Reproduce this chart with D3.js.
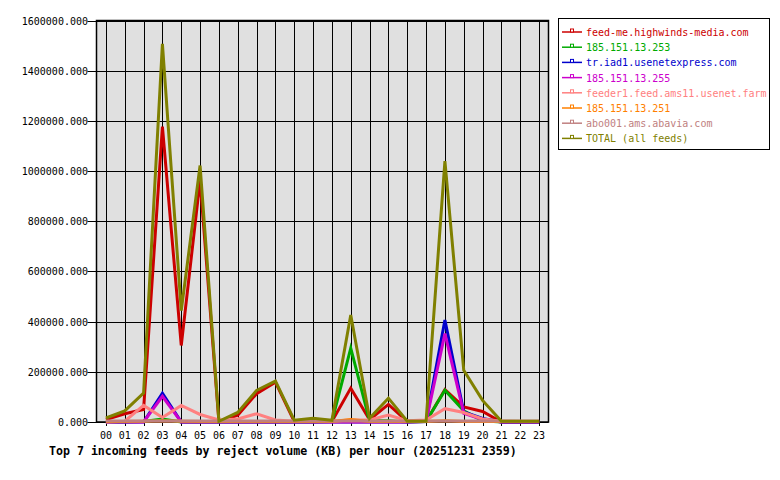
<!DOCTYPE html>
<html>
<head>
<meta charset="utf-8">
<script src="https://cdn.jsdelivr.net/npm/d3@7"></script>
<style>
body { margin: 0; background: #fff; }
text { font-family: "DejaVu Sans Mono", monospace; }
</style>
</head>
<body>
<script>
//chart data
var hours = ["00","01","02","03","04","05","06","07","08","09","10","11",
             "12","13","14","15","16","17","18","19","20","21","22","23"];

var feedNames = ["feed-me.highwinds-media.com", "185.151.13.253", "tr.iad1.usenetexpress.com",
                 "185.151.13.255", "feeder1.feed.ams11.usenet.farm", "185.151.13.251",
                 "abo001.ams.abavia.com", "TOTAL (all feeds)"];

var feedColors = ["#cc0000", "#00aa00", "#0000cc", "#cc00cc", "#ff8080", "#ff8000", "#c08080", "#808000"];

var highwinds = [10000, 33000, 50000, 1177000, 305000, 963000, 2000, 27000, 113000, 159000, 2000, 5000,
                 2000, 135000, 9000, 70000, 2000, 2000, 129000, 60000, 42000, 0, 0, 0];
var ip253 = [0, 0, 2000, 12000, 0, 0, 0, 0, 0, 0, 0, 0,
             2000, 294000, 5000, 5000, 0, 2000, 127000, 45000, 5000, 0, 0, 0];
var usenetexpress = [0, 0, 0, 115000, 0, 0, 0, 0, 0, 0, 0, 0,
                     0, 0, 0, 0, 0, 2000, 406000, 40000, 14000, 0, 0, 0];
var ip255 = [0, 0, 0, 102000, 0, 0, 0, 0, 0, 0, 0, 0,
             0, 0, 0, 0, 0, 2000, 352000, 35000, 10000, 0, 0, 0];
var usenetFarm = [0, 3000, 66000, 18000, 66000, 30000, 8000, 12000, 33000, 8000, 3000, 3000,
                  3000, 8000, 8000, 28000, 5000, 8000, 53000, 38000, 12000, 3000, 2000, 2000];
var ip251 = [2000, 2000, 3000, 5000, 3000, 2000, 2000, 2000, 2000, 2000, 2000, 2000,
             2000, 10000, 2000, 2000, 2000, 2000, 5000, 2000, 2000, 2000, 2000, 2000];
var abavia = [4000, 4000, 4000, 4000, 4000, 4000, 4000, 4000, 4000, 4000, 4000, 4000,
              4000, 4000, 4000, 4000, 4000, 4000, 4000, 4000, 4000, 4000, 4000, 4000];
var total = [16000, 44000, 115000, 1507000, 444000, 1022000, 3000, 38000, 126000, 163000, 7000, 15000,
             7000, 426000, 15000, 95000, 3000, 3000, 1040000, 206000, 86000, 3000, 3000, 3000];

var yTicks = [0, 200000, 400000, 600000, 800000, 1000000, 1200000, 1400000, 1600000];

var titleText = "Top 7 incoming feeds by reject volume (KB) per hour (20251231 2359)";

var allSeries = [highwinds, ip253, usenetexpress, ip255, usenetFarm, ip251, abavia, total];

window.onload = drawChart();

function drawChart(){

    var width = 780,
        height = 480;

    var svg = d3.select("body")
        .append("svg")
        .attr("width", width)
        .attr("height", height);

    var plotLeft = 96.5, plotRight = 548.5, plotTop = 20.5, plotBottom = 422;

    var x = d3.scalePoint()
        .domain(hours)
        .range([plotLeft, plotRight])
        .padding(0.5);

    var y = d3.scaleLinear()
        .domain([0, 1600000])
        .range([plotBottom, plotTop]);

    //plot background
    svg.append("rect")
        .attr("x", plotLeft)
        .attr("y", plotTop)
        .attr("width", plotRight - plotLeft)
        .attr("height", plotBottom - plotTop)
        .attr("fill", "#e0e0e0");

    //vertical grid lines + ticks
    svg.selectAll(".vgrid")
        .data(hours)
        .enter()
        .append("line")
        .attr("class", "vgrid")
        .attr("x1", function(d){ return Math.round(x(d)) + 0.5; })
        .attr("x2", function(d){ return Math.round(x(d)) + 0.5; })
        .attr("y1", plotTop)
        .attr("y2", plotBottom + 4)
        .attr("stroke", "#000")
        .attr("stroke-width", 1);

    //horizontal grid lines + ticks
    svg.selectAll(".hgrid")
        .data(yTicks)
        .enter()
        .append("line")
        .attr("class", "hgrid")
        .attr("x1", plotLeft - 9)
        .attr("x2", plotRight)
        .attr("y1", function(d){ return Math.round(y(d)) + 0.5; })
        .attr("y2", function(d){ return Math.round(y(d)) + 0.5; })
        .attr("stroke", "#000")
        .attr("stroke-width", 1);

    //frame
    svg.append("rect")
        .attr("x", plotLeft)
        .attr("y", plotTop)
        .attr("width", plotRight - plotLeft)
        .attr("height", plotBottom - plotTop)
        .attr("fill", "none")
        .attr("stroke", "#000")
        .attr("stroke-width", 1.5);

    //axis labels
    svg.selectAll(".ylab")
        .data(yTicks)
        .enter()
        .append("text")
        .attr("class", "ylab")
        .attr("x", 88)
        .attr("y", function(d){ return y(d) + 4; })
        .attr("text-anchor", "end")
        .attr("font-size", "10px")
        .text(d3.format(".3f"));

    svg.selectAll(".xlab")
        .data(hours)
        .enter()
        .append("text")
        .attr("class", "xlab")
        .attr("x", function(d){ return x(d); })
        .attr("y", 439)
        .attr("text-anchor", "middle")
        .attr("font-size", "10px")
        .text(function(d){ return d; });

    //series lines
    var line = d3.line()
        .x(function(d, i){ return x(hours[i]); })
        .y(function(d){ return y(d); });

    svg.selectAll(".feed")
        .data(allSeries)
        .enter()
        .append("path")
        .attr("class", "feed")
        .attr("d", line)
        .attr("fill", "none")
        .attr("stroke", function(d, i){ return feedColors[i]; })
        .attr("stroke-width", 3)
        .attr("stroke-linejoin", "miter");

    //title
    svg.append("text")
        .attr("x", 49)
        .attr("y", 455)
        .attr("font-size", "11.6px")
        .attr("font-weight", "bold")
        .text(titleText);

    //legend
    var legend = svg.append("g");

    legend.append("rect")
        .attr("x", 558.5)
        .attr("y", 18.5)
        .attr("width", 211)
        .attr("height", 131)
        .attr("fill", "#fff")
        .attr("stroke", "#000")
        .attr("stroke-width", 1);

    var rows = legend.selectAll(".row")
        .data(feedNames)
        .enter()
        .append("g")
        .attr("class", "row")
        .attr("transform", function(d, i){ return "translate(0," + (32 + i * 15.2) + ")"; });

    rows.append("line")
        .attr("x1", 562)
        .attr("x2", 582)
        .attr("y1", 0)
        .attr("y2", 0)
        .attr("stroke", function(d, i){ return feedColors[i]; })
        .attr("stroke-width", 1.5);

    rows.append("rect")
        .attr("x", 570.5)
        .attr("y", -3)
        .attr("width", 3)
        .attr("height", 3)
        .attr("fill", "#fff")
        .attr("stroke", function(d, i){ return feedColors[i]; })
        .attr("stroke-width", 1);

    rows.append("text")
        .attr("x", 586)
        .attr("y", 4)
        .attr("font-size", "10px")
        .attr("fill", function(d, i){ return feedColors[i]; })
        .text(function(d){ return d; });
}
</script>
</body>
</html>
